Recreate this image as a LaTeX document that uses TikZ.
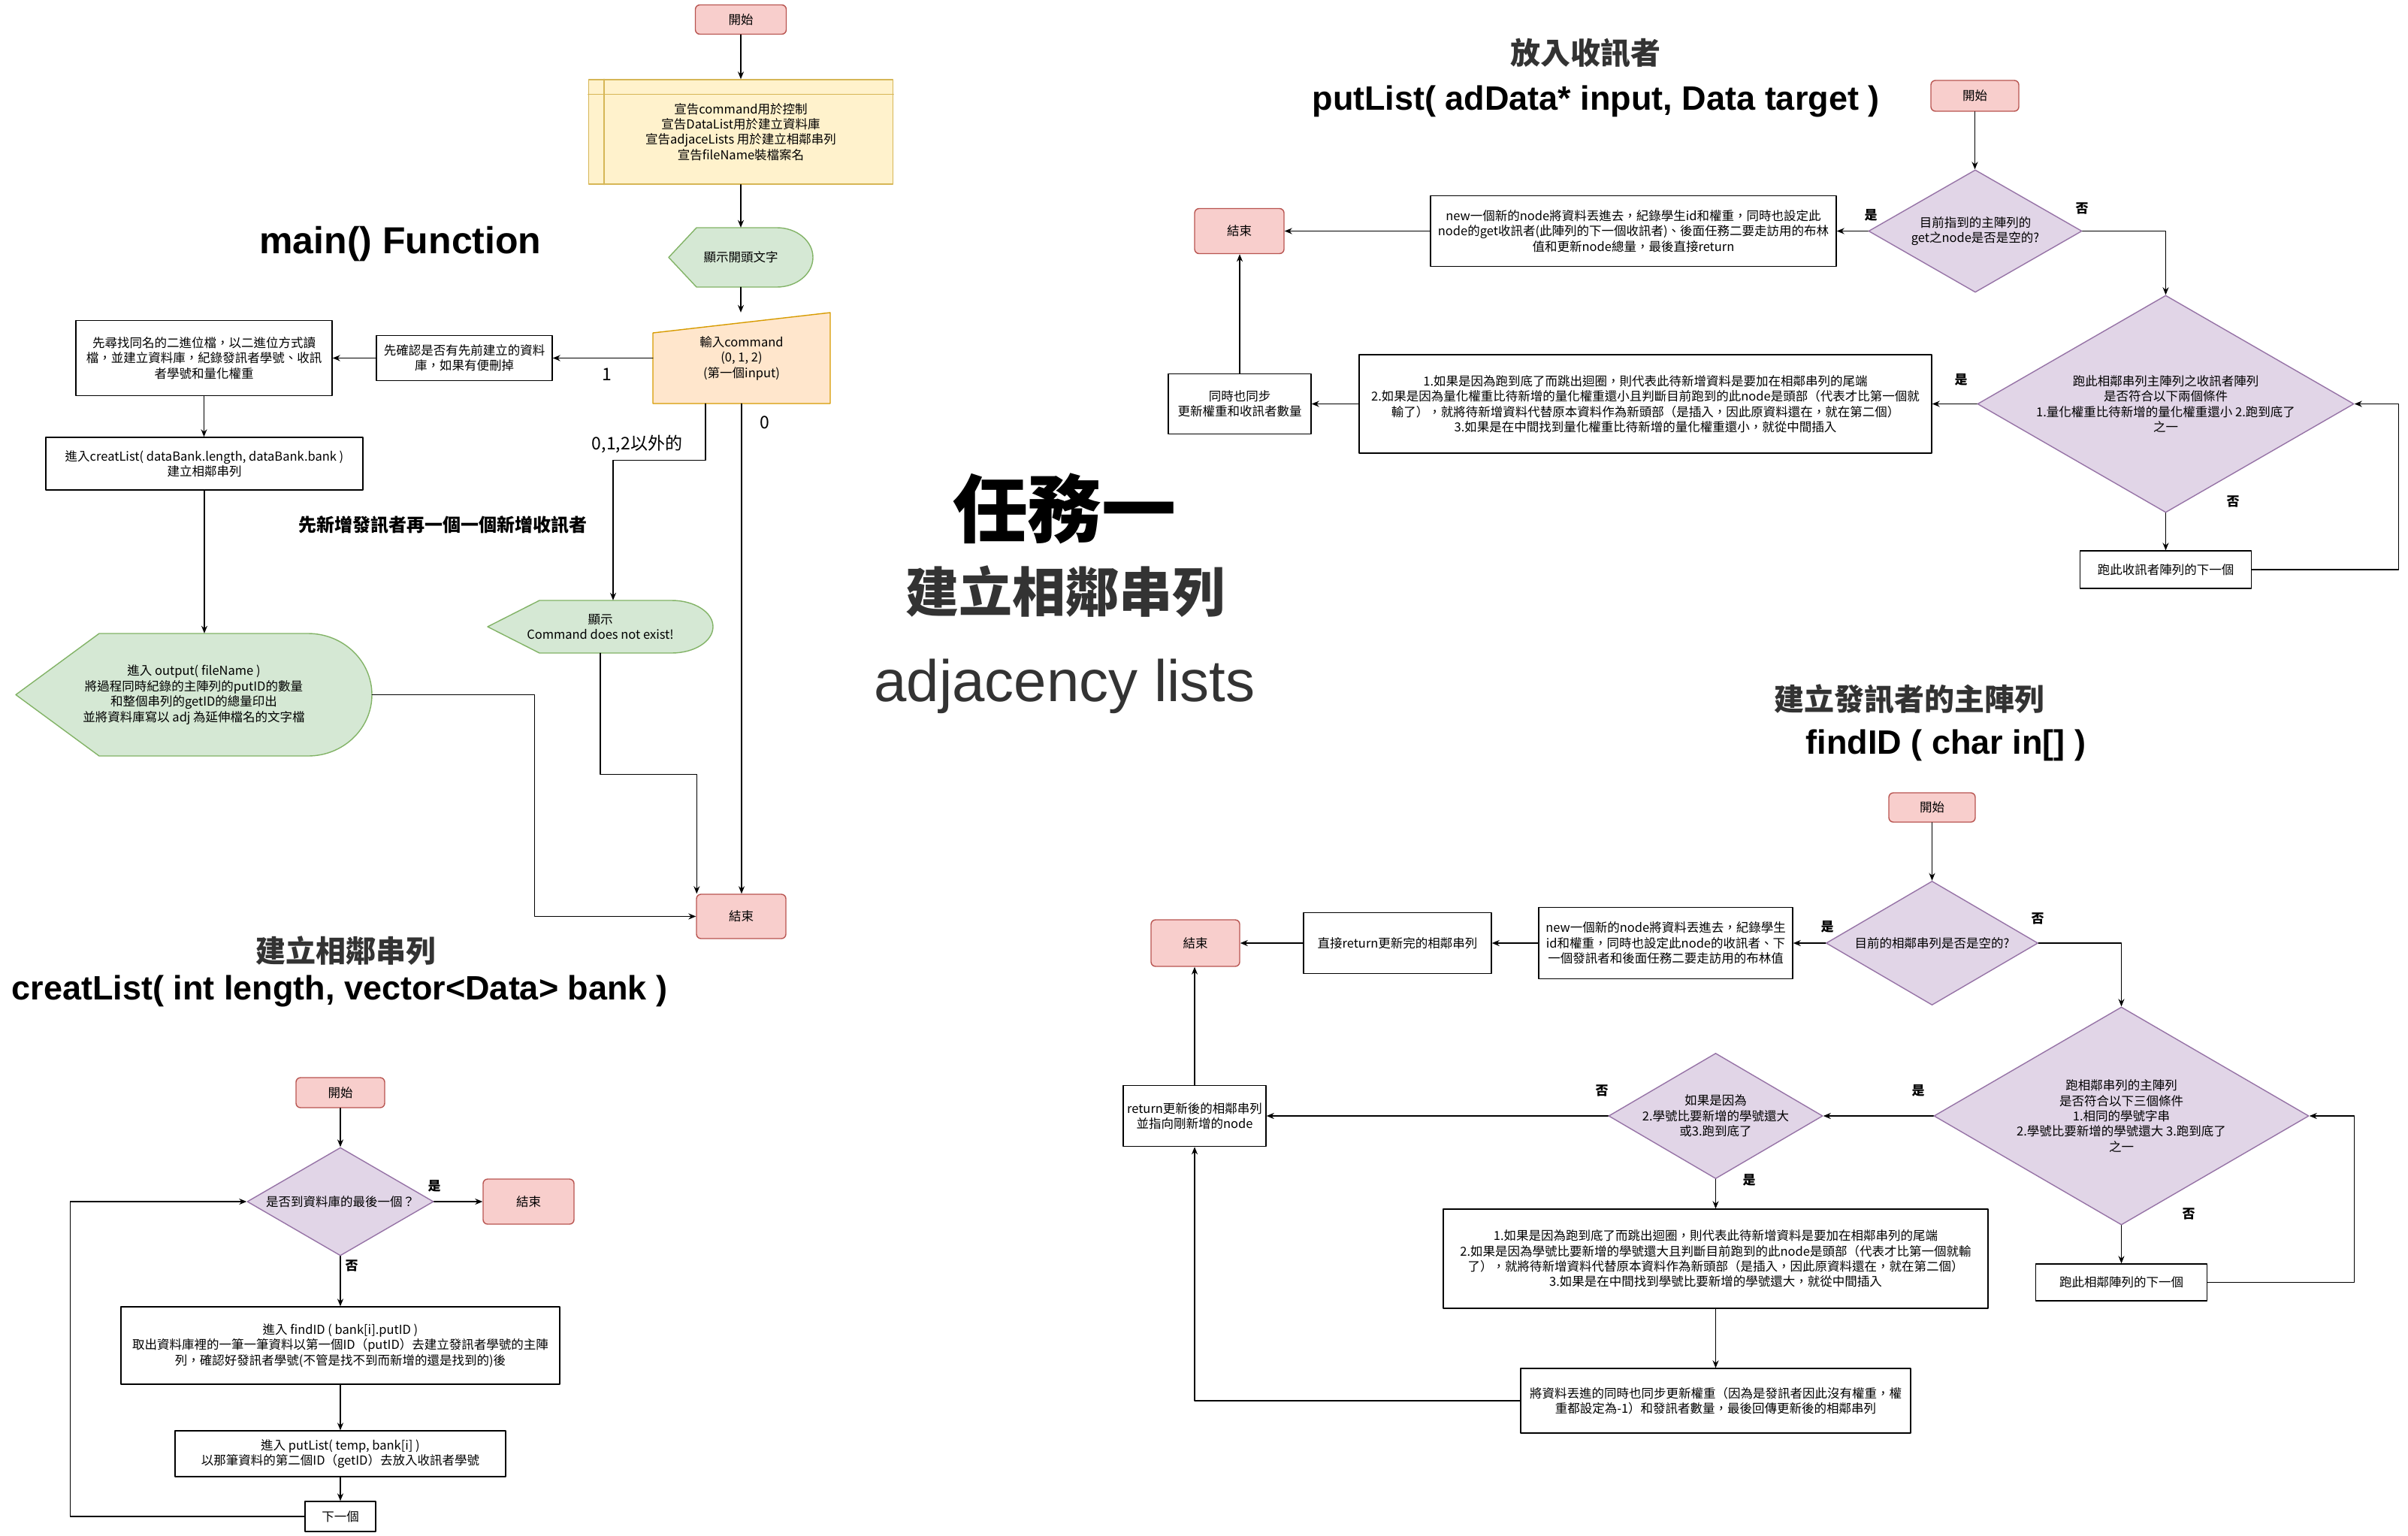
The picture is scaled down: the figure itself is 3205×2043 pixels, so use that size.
\documentclass[tikz,border=0pt]{standalone}
\usepackage{fontspec}
\setmainfont{Noto Sans CJK TC}
\newfontfamily\arialfont{Liberation Sans}
\usepackage{pgf,tikz}
\usetikzlibrary{arrows}
\usetikzlibrary{arrows.meta}
\usetikzlibrary{shapes.geometric}
\usetikzlibrary{calc}
\definecolor{termfill}{HTML}{F8CECC}
\definecolor{termline}{HTML}{B85450}
\definecolor{storefill}{HTML}{FFF2CC}
\definecolor{storeline}{HTML}{D6B656}
\definecolor{showfill}{HTML}{D5E8D4}
\definecolor{showline}{HTML}{82B366}
\definecolor{inputfill}{HTML}{FFE6CC}
\definecolor{inputline}{HTML}{D79B00}
\definecolor{condfill}{HTML}{E1D5E7}
\definecolor{condline}{HTML}{9673A6}
\definecolor{titlegray}{HTML}{333333}

\begin{document}
\begin{tikzpicture}[line cap=round,line join=round,>={Stealth[length=10pt,width=8pt]},x=1pt,y=-1pt,
  every node/.style={font=\fontsize{16.5}{20.4}\selectfont,align=center,inner sep=1pt},
  sz/.style 2 args={minimum width=#1,minimum height=#2},
  term/.style={draw=termline,fill=termfill,rounded corners=6pt,line width=1.4pt},
  proc/.style={draw=black,fill=white,line width=1.4pt},
  store/.style={draw=storeline,fill=storefill,line width=1.4pt},
  show/.style={draw=showline,fill=showfill,line width=1.4pt},
  cond/.style={diamond,draw=condline,fill=condfill,line width=1.4pt,inner sep=0pt},
  flow/.style={->,line width=1.4pt},
  yesno/.style={font=\fontsize{17}{20}\selectfont\bfseries},
  branch/.style={font=\fontsize{23}{27}\selectfont},
  zhtitle/.style={font=\fontsize{40}{48}\selectfont\bfseries,text=titlegray},
  entitle/.style={font=\arialfont\fontsize{45}{54}\selectfont\bfseries}]
\useasboundingbox (0,0) rectangle (3205,2043);

\node[font=\arialfont\fontsize{50}{60}\selectfont\bfseries] (mtitle) at (533,325) {main() Function};
\node[term,sz={121}{39}] (ms) at (986,26) {開始};
\node[store,sz={405}{139}] (mdecl) at (986,175.5) {宣告command用於控制\\宣告DataList用於建立資料庫\\宣告adjaceLists 用於建立相鄰串列\\宣告fileName裝檔案名};
\draw[draw=storeline,line width=1.4pt] ($(mdecl.north west)+(21,0)$) -- ($(mdecl.south west)+(21,0)$);
\draw[draw=storeline,line width=1.4pt] ($(mdecl.north west)+(0,20)$) -- ($(mdecl.north east)+(0,20)$);
\filldraw[show] (890,342.5) -- (927,303) -- (1034,303) .. controls (1060.5,303) and (1082,320.7) .. (1082,342.5) .. controls (1082,364.3) and (1060.5,382) .. (1034,382) -- (927,382) -- cycle;
\node[sz={192}{79}] (mdisp) at (986,342.5) {顯示開頭文字};
\filldraw[draw=inputline,fill=inputfill,line width=1.4pt] (869,443) -- (1105,416) -- (1105,537) -- (869,537) -- cycle;
\node[sz={236}{121}] (mcmd) at (987,476.5) {輸入command\\(0, 1, 2)\\(第一個input)};
\node[proc,sz={234}{60}] (mchk) at (618,476.5) {先確認是否有先前建立的資料\\庫，如果有便刪掉};
\node[proc,sz={341}{100}] (mfind) at (271.5,476.5) {先尋找同名的二進位檔，以二進位方式讀\\檔，並建立資料庫，紀錄發訊者學號、收訊\\者學號和量化權重};
\node[proc,sz={422}{70}] (mcreat) at (272,617) {進入creatList( dataBank.length, dataBank.bank )\\建立相鄰串列};
\filldraw[show] (21,924.5) -- (132,843) -- (410,843) .. controls (456.9,843) and (495,879.5) .. (495,924.5) .. controls (495,969.5) and (456.9,1006) .. (410,1006) -- (132,1006) -- cycle;
\node[sz={474}{163}] (mout) at (258,924.5) {進入 output( fileName )\\將過程同時紀錄的主陣列的putID的數量\\和整個串列的getID的總量印出\\並將資料庫寫以 adj 為延伸檔名的文字檔};
\filldraw[show] (649,834) -- (718,799) -- (894,799) .. controls (924.4,799) and (949,814.7) .. (949,834) .. controls (949,853.3) and (924.4,869) .. (894,869) -- (718,869) -- cycle;
\node[sz={300}{70}] (mbad) at (799,834) {顯示\\Command does not exist!};
\node[term,sz={119}{59}] (mend) at (986.5,1219.5) {結束};
\draw[flow] (ms.south) -- (ms.south |- mdecl.north);
\draw[flow] (mdecl.south) -- (mdecl.south |- mdisp.north);
\draw[flow] (mdisp.south) -- (mdisp.south |- mcmd.north);
\draw[flow] (mcmd.west) -- (mcmd.west -| mchk.east);
\draw[flow] (mchk.west) -- (mchk.west -| mfind.east);
\draw[flow] (mfind.south) -- (mfind.south |- mcreat.north);
\draw[flow] (mcreat.south) -- (mcreat.south |- mout.north);
\draw[flow] (mout.east) -- ++(216,0) |- (mend.west);
\draw[flow] ($(mcmd.south)+(-48,0)$) -- ++(0,75) -| ($(mbad.north)+(17,0)$);
\draw[flow] (mbad.south) -- ++(0,161) -| ($(mend.north west)+(1,0)$);
\draw[flow] (mcmd.south) -- (mcmd.south |- mend.north);
\node[branch] (mone) at (808,498) {1};
\node[branch] (mzero) at (1018,562) {0};
\node[branch] (mother) at (848,591) {0,1,2以外的};
\node[font=\fontsize{24}{28}\selectfont\bfseries] (mnote) at (589,699) {先新增發訊者再一個一個新增收訊者};

\node[font=\fontsize{99}{110}\selectfont\bfseries] (task) at (1417,677) {任務一};
\node[font=\fontsize{71}{80}\selectfont\bfseries,text=titlegray] (taskzh) at (1418,787) {建立相鄰串列};
\node[font=\arialfont\fontsize{78}{90}\selectfont,text=titlegray] (tasken) at (1417,913) {adjacency lists};

\node[zhtitle] (ptitle) at (2110,71) {放入收訊者};
\node[entitle] (pname) at (2124,135) {putList( adData* input, Data target )};
\node[term,sz={117}{41}] (ps) at (2628.5,127.5) {開始};
\node[cond,sz={284}{163},label={center:{目前指到的主陣列的\\get之node是否是空的?}}] (pd1) at (2629,307.5) {};
\node[proc,sz={540}{94}] (pnew) at (2174,307.5) {new一個新的node將資料丟進去，紀錄學生id和權重，同時也設定此\\node的get收訊者(此陣列的下一個收訊者)、後面任務二要走訪用的布林\\值和更新node總量，最後直接return};
\node[term,sz={119}{60}] (pend) at (1649.5,307.5) {結束};
\node[cond,sz={501}{289},label={center:{跑此相鄰串列主陣列之收訊者陣列\\是否符合以下兩個條件\\1.量化權重比待新增的量化權重還小 2.跑到底了\\之一}}] (pd2) at (2882.5,537.5) {};
\node[proc,sz={762}{131}] (pins) at (2190,537.5) {1.如果是因為跑到底了而跳出迴圈，則代表此待新增資料是要加在相鄰串列的尾端\\2.如果是因為量化權重比待新增的量化權重還小且判斷目前跑到的此node是頭部（代表才比第一個就\\輸了），就將待新增資料代替原本資料作為新頭部（是插入，因此原資料還在，就在第二個）\\3.如果是在中間找到量化權重比待新增的量化權重還小，就從中間插入};
\node[proc,sz={190}{80}] (psync) at (1650,537.5) {同時也同步\\更新權重和收訊者數量};
\node[proc,sz={228}{50}] (pnext) at (2882.5,758) {跑此收訊者陣列的下一個};
\draw[flow] (ps.south) -- (ps.south |- pd1.north);
\draw[flow] (pd1.west) -- (pd1.west -| pnew.east);
\draw[flow] (pnew.west) -- (pnew.west -| pend.east);
\draw[flow] (pd1.east) -| (pd2.north);
\draw[flow] (pd2.west) -- (pd2.west -| pins.east);
\draw[flow] (pins.west) -- (pins.west -| psync.east);
\draw[flow] (psync.north) -- (psync.north |- pend.south);
\draw[flow] (pd2.south) -- (pd2.south |- pnext.north);
\draw[flow] (pnext.east) -- ++(195,0) |- (pd2.east);
\node[yesno] (pyes1) at (2490,286) {是};
\node[yesno] (pno1) at (2771,277) {否};
\node[yesno] (pyes2) at (2610,505) {是};
\node[yesno] (pno2) at (2972,667) {否};

\node[zhtitle] (ftitle) at (2541,930) {建立發訊者的主陣列};
\node[entitle] (fname) at (2590,992) {findID ( char in[] )};
\node[term,sz={115}{39}] (fs) at (2571.5,1074.5) {開始};
\node[cond,sz={282}{165},label={center:{目前的相鄰串列是否是空的?}}] (fd1) at (2571.5,1255) {};
\node[proc,sz={338}{95}] (fnew) at (2217,1255) {new一個新的node將資料丟進去，紀錄學生\\id和權重，同時也設定此node的收訊者、下\\一個發訊者和後面任務二要走訪用的布林值};
\node[proc,sz={250}{81}] (fret) at (1860,1255) {直接return更新完的相鄰串列};
\node[term,sz={118}{62}] (fend) at (1591,1255) {結束};
\node[cond,sz={499}{290},label={center:{跑相鄰串列的主陣列\\是否符合以下三個條件\\1.相同的學號字串\\2.學號比要新增的學號還大 3.跑到底了\\之一}}] (fd2) at (2823.5,1485) {};
\node[cond,sz={285}{167},label={center:{如果是因為\\2.學號比要新增的學號還大\\或3.跑到底了}}] (fd3) at (2283.5,1485) {};
\node[proc,sz={190}{81}] (fback) at (1590,1485) {return更新後的相鄰串列\\並指向剛新增的node};
\node[proc,sz={725}{132}] (fins) at (2283.5,1675) {1.如果是因為跑到底了而跳出迴圈，則代表此待新增資料是要加在相鄰串列的尾端\\2.如果是因為學號比要新增的學號還大且判斷目前跑到的此node是頭部（代表才比第一個就輸\\了），就將待新增資料代替原本資料作為新頭部（是插入，因此原資料還在，就在第二個）\\3.如果是在中間找到學號比要新增的學號還大，就從中間插入};
\node[proc,sz={519}{86}] (fupd) at (2283.5,1864) {將資料丟進的同時也同步更新權重（因為是發訊者因此沒有權重，權\\重都設定為-1）和發訊者數量，最後回傳更新後的相鄰串列};
\node[proc,sz={228}{49}] (fnext) at (2823.5,1706.5) {跑此相鄰陣列的下一個};
\draw[flow] (fs.south) -- (fs.south |- fd1.north);
\draw[flow] (fd1.west) -- (fd1.west -| fnew.east);
\draw[flow] (fnew.west) -- (fnew.west -| fret.east);
\draw[flow] (fret.west) -- (fret.west -| fend.east);
\draw[flow] (fd1.east) -| (fd2.north);
\draw[flow] (fd2.west) -- (fd2.west -| fd3.east);
\draw[flow] (fd3.west) -- (fd3.west -| fback.east);
\draw[flow] (fback.north) -- (fback.north |- fend.south);
\draw[flow] (fd3.south) -- (fd3.south |- fins.north);
\draw[flow] (fins.south) -- (fins.south |- fupd.north);
\draw[flow] (fupd.west) -| (fback.south);
\draw[flow] (fd2.south) -- (fd2.south |- fnext.north);
\draw[flow] (fnext.east) -- ++(195,0) |- (fd2.east);
\node[yesno] (fyes1) at (2432,1233) {是};
\node[yesno] (fno1) at (2712,1222) {否};
\node[yesno] (fyes2) at (2553,1451) {是};
\node[yesno] (fno3) at (2132,1451) {否};
\node[yesno] (fyes3) at (2328,1570) {是};
\node[yesno] (fno2) at (2913,1615) {否};

\node[zhtitle] (ctitle) at (460,1265) {建立相鄰串列};
\node[entitle] (cname) at (452,1319) {creatList( int length, vector<Data> bank )};
\node[term,sz={118}{40}] (cs) at (453,1454) {開始};
\node[cond,sz={248}{144},label={center:{是否到資料庫的最後一個？}}] (cd) at (453,1599) {};
\node[term,sz={121}{60}] (cend) at (703.5,1599) {結束};
\node[proc,sz={584}{103}] (cfind) at (453,1790.5) {進入 findID ( bank[i].putID )\\取出資料庫裡的一筆一筆資料以第一個ID（putID）去建立發訊者學號的主陣\\列，確認好發訊者學號(不管是找不到而新增的還是找到的)後};
\node[proc,sz={440}{61}] (cput) at (453,1934.5) {進入 putList( temp, bank[i] )\\以那筆資料的第二個ID（getID）去放入收訊者學號};
\node[proc,sz={94}{40}] (cnext) at (453,2018) {下一個};
\draw[flow] (cs.south) -- (cs.south |- cd.north);
\draw[flow] (cd.east) -- (cd.east -| cend.west);
\draw[flow] (cd.south) -- (cd.south |- cfind.north);
\draw[flow] (cfind.south) -- (cfind.south |- cput.north);
\draw[flow] (cput.south) -- (cput.south |- cnext.north);
\draw[flow] (cnext.west) -- ++(-312,0) |- (cd.west);
\node[yesno] (cyes) at (578,1578) {是};
\node[yesno] (cno) at (468,1684) {否};
\end{tikzpicture}
\end{document}
